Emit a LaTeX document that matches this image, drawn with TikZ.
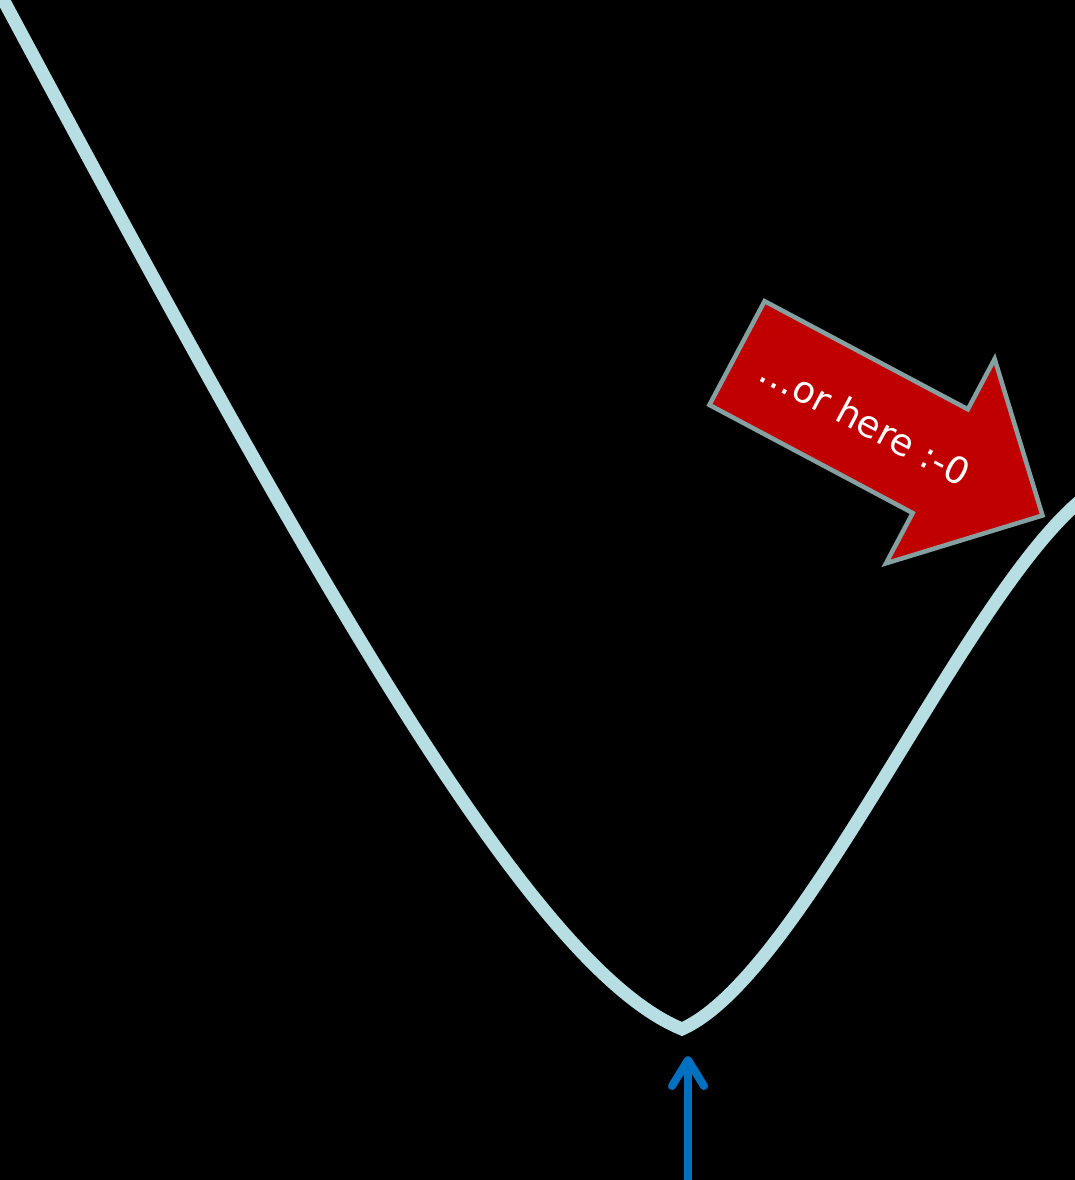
\documentclass[tikz,border=0pt]{standalone}
\usepackage{fontspec}
\newfontfamily\dejavu{DejaVu Sans}
\usetikzlibrary{arrows.meta, shapes.arrows, calc}
\definecolor{curvecol}{RGB}{183,222,226}
\definecolor{alertred}{RGB}{192,0,0}
\definecolor{alertrim}{RGB}{132,160,160}
\definecolor{pointblue}{RGB}{0,112,192}

\begin{document}
\begin{tikzpicture}[
    x=1pt, y=-1pt,
    curve/.style={
        line width=13pt,
        draw=curvecol,
        line join=miter
    },
    bigarrow/.style={
        single arrow,
        draw=alertrim,
        fill=alertred,
        line width=4.5pt,
        minimum height=346pt,
        inner xsep=0pt,
        inner ysep=56.5pt,
        single arrow head extend=57pt
    },
    arrowtext/.style={
        rotate=-28,
        text=white,
        font=\dejavu\fontsize{37}{44}\selectfont
    },
    pointer/.style={
        line width=8pt,
        draw=pointblue,
        -{Straight Barb[length=26pt, width=32pt, round]}
    }
]

% background and page size
\fill[black] (0,0) rectangle (1075,1180);
\useasboundingbox (0,0) rectangle (1075,1180);
\clip (0,0) rectangle (1075,1180);

% the curve with its minimum
\draw[curve] (-3,-12) .. controls (318,588) and (532,967.5) .. (682,1029)
    .. controls (802,975) and (960,603) .. (1080,501);

% red arrow with its text
\node[bigarrow, rotate=-28, anchor=tail] (here) at (735,352) {};
\node[arrowtext] (herelabel) at ($(here.tail)!0.42!(here.tip)$) {…or here :-0};

% blue pointer at the bottom
\coordinate (foot) at (688,1190);
\coordinate (aim) at (688,1056);
\draw[pointer] (foot) -- (aim);

\end{tikzpicture}
\end{document}
